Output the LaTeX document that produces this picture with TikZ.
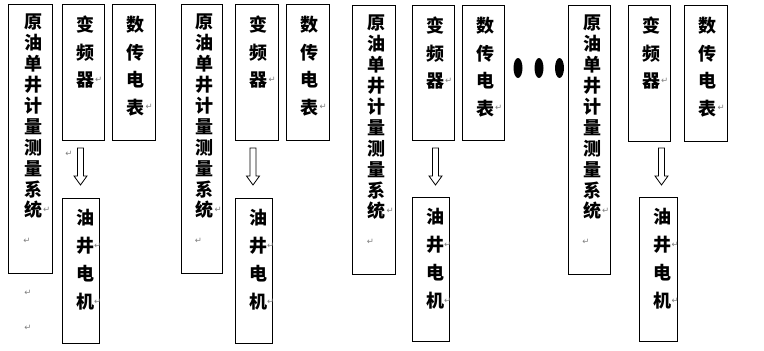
\documentclass[tikz,border=0pt]{standalone}
\usepackage{fontspec}
\newfontfamily\cjk{Noto Sans CJK SC}
\newfontfamily\symfont{DejaVu Sans}
\usetikzlibrary{calc}
\begin{document}
\begin{tikzpicture}[x=1pt,y=-1pt,
  box/.style={draw=black, line width=1pt, inner sep=0pt, anchor=north west},
  ch/.style={font=\cjk\bfseries\fontsize{18}{18}\selectfont, inner sep=0pt, text=black},
  pm/.style={font=\symfont\fontsize{8.5}{8.5}\selectfont, text=black!50, inner sep=0pt},
  blockarrow/.style={draw=black, line width=0.8pt, fill=white,
    to path={let \p1=(\tikztostart), \p2=(\tikztotarget) in
      (\x1-3pt,\y1) -- (\x1+3pt,\y1) -- (\x1+3pt,\y2+9pt) -- (\x1+6.5pt,\y2+9pt)
      -- (\x2,\y2) -- (\x1-6.5pt,\y2+9pt) -- (\x1-3pt,\y2+9pt) -- cycle}}
]
\useasboundingbox (0,0) rectangle (764,351);

% ---------- boxes ----------
% group 1
\node[box, minimum width=44, minimum height=269] (sys1) at (8,4) {};
\node[box, minimum width=42, minimum height=136] (vf1) at (62,4) {};
\node[box, minimum width=43, minimum height=136] (dm1) at (112,4) {};
\node[box, minimum width=37, minimum height=145] (mo1) at (62,198) {};
% group 2
\node[box, minimum width=41, minimum height=269] (sys2) at (181,4) {};
\node[box, minimum width=43, minimum height=136] (vf2) at (235,4) {};
\node[box, minimum width=43, minimum height=136] (dm2) at (286,4) {};
\node[box, minimum width=37, minimum height=145] (mo2) at (235,198) {};
% group 3
\node[box, minimum width=43, minimum height=269] (sys3) at (352,5) {};
\node[box, minimum width=42, minimum height=135] (vf3) at (412,5) {};
\node[box, minimum width=42, minimum height=135] (dm3) at (462,5) {};
\node[box, minimum width=37, minimum height=144] (mo3) at (412,197) {};
% group 4
\node[box, minimum width=42, minimum height=269] (sys4) at (568,5) {};
\node[box, minimum width=42, minimum height=136] (vf4) at (628,5) {};
\node[box, minimum width=43, minimum height=136] (dm4) at (684,5) {};
\node[box, minimum width=38, minimum height=144] (mo4) at (639,197) {};

% ---------- texts ----------
\foreach \g in {1,2,3,4}{
  \foreach \c [count=\i] in {原,油,单,井,计,量,测,量,系,统}
    \node[ch] (s\g-\i) at ($(sys\g.north)+(2.5,18+20.9*\i-20.9)$) {\c};
  \foreach \c [count=\i] in {变,频,器}
    \node[ch] (v\g-\i) at ($(vf\g.north)+(1.5,21+27.5*\i-27.5)$) {\c};
  \foreach \c [count=\i] in {数,传,电,表}
    \node[ch] (d\g-\i) at ($(dm\g.north)+(1.5,21+27.4*\i-27.4)$) {\c};
  \foreach \c [count=\i] in {油,井,电,机}
    \node[ch] (m\g-\i) at ($(mo\g.north)+(4,20+28*\i-28)$) {\c};
  % paragraph marks
  \node[pm] (ps\g) at ($(s\g-10.east)+(4.5,0)$) {↵};
  \node[pm] (pb\g) at ($(s\g-10.south)+(-6,22)$) {↵};
  \node[pm] (pv\g) at ($(v\g-3.east)+(4.5,0)$) {↵};
  \node[pm] (pd\g) at ($(d\g-4.east)+(4.5,0)$) {↵};
  \node[pm] (pj\g) at ($(m\g-2.east)+(3.5,0)$) {↵};
  \node[pm] (pk\g) at ($(m\g-4.east)+(3.5,0)$) {↵};
}
\node[pm] (pa1) at (69,154) {↵};
\node[pm] (px1) at (28,293) {↵};
\node[pm] (px2) at (28,328) {↵};

% ---------- arrows ----------
\coordinate (a1s) at (80.5,148); \coordinate (a1e) at (80.5,185);
\coordinate (a2s) at (253,148);  \coordinate (a2e) at (253,185);
\coordinate (a3s) at (435.5,148); \coordinate (a3e) at (435.5,185);
\coordinate (a4s) at (661.5,148); \coordinate (a4e) at (661.5,185);
\foreach \g in {1,2,3,4}
  \draw[blockarrow] (a\g s) to (a\g e);

% ---------- dots ----------
\fill[black] (518,68) ellipse [x radius=4.5, y radius=10];
\fill[black] (539,68) ellipse [x radius=4.5, y radius=10];
\fill[black] (559.5,68) ellipse [x radius=4.5, y radius=10];
\end{tikzpicture}
\end{document}
